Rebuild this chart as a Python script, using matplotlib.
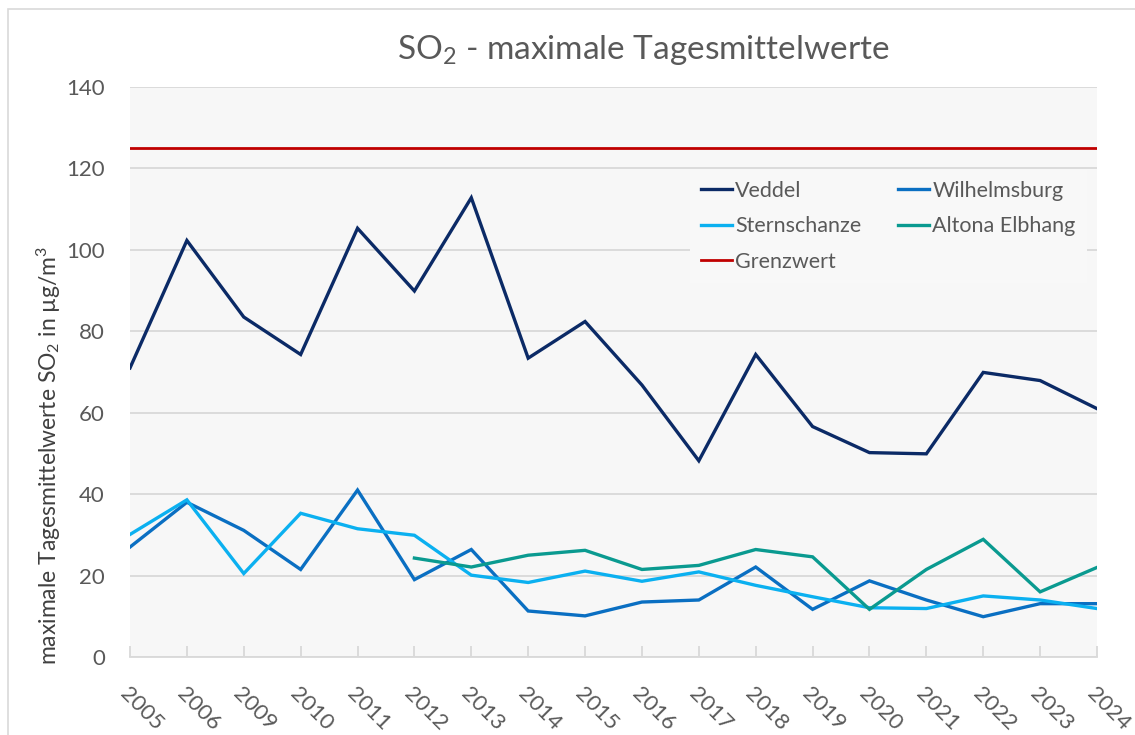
import matplotlib
matplotlib.use("Agg")
import matplotlib.pyplot as plt
from matplotlib.patches import Rectangle
import numpy as np

plt.rcParams['font.family'] = ['Lato', 'DejaVu Sans']
plt.rcParams['mathtext.fontset'] = 'custom'
plt.rcParams['mathtext.rm'] = 'Lato'
plt.rcParams['mathtext.it'] = 'Lato'
plt.rcParams['mathtext.default'] = 'regular'

years = ["2005", "2006", "2009", "2010", "2011", "2012", "2013", "2014", "2015", "2016",
         "2017", "2018", "2019", "2020", "2021", "2022", "2023", "2024"]

veddel = [71.0, 102.3, 83.5, 74.3, 105.3, 89.9, 112.8, 73.4, 82.4, 66.8,
          48.2, 74.3, 56.6, 50.2, 49.9, 69.9, 67.9, 61.0]
wilhelmsburg = [27.0, 38.0, 31.1, 21.5, 41.0, 19.0, 26.4, 11.3, 10.1, 13.5,
                14.0, 22.1, 11.7, 18.7, 14.0, 9.9, 13.1, 13.1]
sternschanze = [30.1, 38.6, 20.5, 35.3, 31.5, 29.9, 20.1, 18.3, 21.1, 18.6,
                20.9, 17.6, 14.8, 12.1, 11.9, 15.0, 14.0, 11.9]
altona = [None, None, None, None, None, 24.3, 22.1, 25.0, 26.2, 21.5,
          22.5, 26.4, 24.6, 11.7, 21.5, 28.9, 16.0, 22.0]
grenzwert = 125

W, H = 1135, 735
fig = plt.figure(figsize=(W / 100, H / 100), dpi=100)
fig.patch.set_facecolor('white')

# outer chart frame
fig.add_artist(Rectangle((7.5 / W, -0.05), 1.2, 1.05 - 8.5 / H, transform=fig.transFigure,
                         fill=False, edgecolor='#d9d9d9', linewidth=1.2))

ax = fig.add_axes([130 / W, 1 - 657 / H, (1097 - 130) / W, (657 - 87) / H])
ax.set_facecolor('#f7f7f7')

x = np.arange(len(years))
alt = np.array([np.nan if v is None else v for v in altona], dtype=float)

lw = 2.4
l_ved, = ax.plot(x, veddel, color='#0b2a66', lw=lw, label='Veddel', solid_joinstyle='miter')
l_wil, = ax.plot(x, wilhelmsburg, color='#0a6fc2', lw=lw, label='Wilhelmsburg', solid_joinstyle='miter')
l_ste, = ax.plot(x, sternschanze, color='#0bb0f0', lw=lw, label='Sternschanze', solid_joinstyle='miter')
l_alt, = ax.plot(x, alt, color='#0a9a90', lw=lw, label='Altona Elbhang', solid_joinstyle='miter')
l_gre = ax.axhline(grenzwert, color='#c00000', lw=lw - 0.4, label='Grenzwert')

ax.set_xlim(0, len(years) - 1)
ax.set_ylim(0, 140)
ax.set_yticks(np.arange(0, 141, 20))
ax.yaxis.grid(True, color='#d9d9d9', lw=1.3)
ax.set_axisbelow(True)
for s in ['top', 'right', 'left']:
    ax.spines[s].set_visible(False)
ax.spines['bottom'].set_color('#d9d9d9')
ax.spines['bottom'].set_linewidth(1.3)

ax.set_xticks(x)
ax.set_xticklabels(years, rotation=-45, ha='left', va='top', rotation_mode='anchor')
ax.tick_params(axis='x', direction='in', length=8, color='#d9d9d9', width=1.3,
               labelsize=16, labelcolor='#595959', pad=19)
ax.tick_params(axis='y', length=0, labelsize=16, labelcolor='#595959', pad=18)

ax.set_ylabel('maximale Tagesmittelwerte SO$_2$ in µg/m$^3$', fontsize=16.5, color='#404040')
ax.yaxis.set_label_coords((63 - 130) / 967, (657 - 455) / 570)

fig.text(643 / W, 1 - 50 / H, 'SO$_2$ - maximale Tagesmittelwerte', fontsize=24,
         color='#595959', ha='center', va='center')

handles = [l_ved, l_ste, l_gre, l_wil, l_alt]
leg = ax.legend(handles=handles, labels=[h.get_label() for h in handles], ncol=2,
                loc='upper left', bbox_to_anchor=(690 / W, 1 - 170 / H),
                bbox_transform=fig.transFigure, fontsize=15.5, frameon=True,
                facecolor='#f8f8f8', edgecolor='none', framealpha=1, fancybox=False,
                handlelength=1.45, handletextpad=0.15, columnspacing=1.7,
                labelspacing=0.72, borderpad=0.5, borderaxespad=0)
for t in leg.get_texts():
    t.set_color('#595959')

fig.savefig('out.png', dpi=100, facecolor='white')
